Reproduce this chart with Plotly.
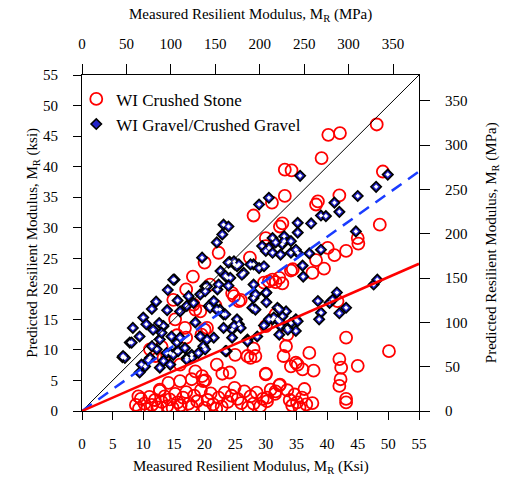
import plotly.graph_objects as go

# WI Crushed Stone (measured ksi, predicted ksi)
stone_x = [48.1, 40.2, 42.1, 39.1, 33.1, 34.2, 33.1, 31.0, 28.0, 38.5, 38.2, 42.0, 49.1, 48.6, 32.7, 32.3, 30.0, 45.0,
           45.1, 43.1, 41.2, 40.1, 39.5, 38.2, 37.6, 34.1, 32.7, 31.6, 30.5, 41.7, 43.1, 50.1, 37.1, 33.3, 32.9, 42.0,
           42.3, 45.0, 35.2, 34.1, 36.0, 37.8, 30.0, 42.2, 42.0, 43.1, 32.3, 28.3, 28.0,
           20.0, 18.1, 14.9, 18.2, 16.8, 20.0, 15.2, 22.3, 17.0, 20.9, 18.5, 24.5, 25.9, 25.0, 22.0, 16.0, 18.5, 14.1,
           16.0, 19.8, 27.0, 13.3, 11.1,
           27.4, 34.4, 31.1, 32.2, 29.7, 24.8, 25.6, 19.3, 21.8, 20.4, 31.6, 30.0, 30.0, 33.5,
           27.5, 22.9, 24.1, 30.0, 34.9, 20.1, 32.2, 31.6, 30.2, 17.9, 12.7, 9.2, 19.6,
           15.5, 17.0, 19.5, 13.0, 12.0,
           8.8, 9.3, 9.6, 10.2, 10.6, 11.0, 11.4, 11.9, 12.3, 12.7, 13.0, 13.5, 13.9, 14.3, 14.8, 15.2, 15.6, 16.1,
           16.5, 17.0, 17.4, 17.9, 18.3, 18.8, 19.4, 20.0, 20.5, 21.0, 21.4, 21.9, 22.3, 22.8, 23.3, 23.8, 24.4, 24.9,
           25.4, 26.0, 26.5, 27.1, 27.5, 28.0, 28.5, 29.1, 29.5, 30.2, 30.8, 31.5, 33.5, 33.9, 34.3, 34.7, 35.1, 35.5,
           35.9, 36.3, 36.6, 37.6, 43.1]
stone_y = [46.9, 45.2, 45.5, 41.4, 39.5, 39.4, 35.2, 34.1, 32.0, 34.3, 33.8, 35.3, 39.2, 30.5, 30.7, 30.2, 28.3, 28.3,
           27.4, 26.2, 25.5, 26.7, 23.3, 24.7, 22.6, 23.0, 20.9, 21.1, 21.2, 18.0, 12.0, 9.8, 9.5, 10.6, 9.0, 8.5,
           7.1, 7.4, 7.6, 7.3, 6.8, 6.6, 6.0, 5.2, 4.1, 2.0, 4.3, 9.0, 10.2,
           24.3, 22.0, 18.2, 17.4, 13.6, 13.3, 15.0, 25.9, 19.9, 20.7, 16.6, 19.3, 18.2, 9.2, 7.6, 7.6, 6.5, 4.6,
           4.9, 4.9, 9.0, 8.7, 10.1,
           25.1, 23.2, 21.5, 21.8, 21.0, 18.8, 18.0, 16.3, 17.2, 13.6, 15.8, 13.9, 27.0, 12.5,
           8.7, 6.1, 6.3, 6.1, 7.9, 5.0, 4.2, 3.2, 2.2, 5.2, 3.5, 2.4, 5.7,
           12.4, 12.0, 12.5, 10.5, 9.0,
           1.0, 0.4, 2.0, 1.2, 0.3, 2.3, 1.0, 1.8, 0.6, 3.3, 1.5, 2.4, 0.8, 1.9, 0.5, 2.8, 1.4, 0.9,
           2.2, 3.1, 1.2, 0.7, 2.5, 1.6, 3.4, 0.5, 1.8, 2.9, 1.1, 0.4, 2.2, 0.7, 3.0, 1.5, 2.5, 3.8,
           2.0, 1.3, 3.2, 0.6, 2.4, 1.2, 3.0, 0.8, 2.0, 1.6, 3.5, 2.8, 3.4, 1.8, 0.9, 2.7, 1.4, 0.6,
           2.2, 3.6, 1.1, 1.3, 1.4]

# WI Gravel/Crushed Gravel (measured ksi, predicted ksi)
gravel_x = [35.6, 49.9, 48.0, 45.0, 41.2, 42.0, 39.0, 39.8, 37.4, 35.2, 44.7, 35.2, 28.9, 30.5, 31.1, 33.0,
            23.1, 23.9, 22.9,
            22.0, 19.6, 24.1, 24.9, 25.3, 26.4, 22.6, 23.7, 20.1, 22.1, 15.1, 14.0, 17.4, 15.6, 12.1, 11.4, 13.9,
            10.0, 8.3, 9.4, 7.8, 6.6, 7.0, 9.4, 10.3, 12.7, 14.4, 15.5, 17.1, 17.9, 19.8, 21.5, 23.6, 18.5, 20.7,
            21.5, 22.5, 23.1, 25.3, 24.5, 23.1, 25.6, 27.0, 20.4,
            12.6, 13.3, 11.6, 10.5, 14.6, 15.5, 16.0, 12.7, 12.2, 11.1, 13.3, 14.4, 11.4, 13.0, 16.0, 17.1, 18.2,
            29.4, 30.5, 32.7, 34.1, 35.2, 30.0, 31.1, 32.4, 23.9, 24.8, 25.6, 28.0, 28.9, 29.7, 23.4, 24.2, 26.1,
            23.9, 22.3, 20.4, 28.0, 30.0, 28.0, 27.8, 19.3, 20.1, 20.9, 22.0, 23.4, 25.9, 24.8, 31.9, 33.3, 32.7,
            31.9, 34.1, 31.1, 32.4, 33.5, 34.9, 34.9,
            27.5, 31.6, 33.0, 34.1, 34.9, 39.0, 37.1, 36.0, 36.1, 28.3, 30.1, 30.1, 28.3, 32.2, 31.3, 30.5, 29.7,
            32.2, 35.2, 32.2, 28.6,
            38.5, 39.0, 38.7, 40.4, 40.9, 41.6, 42.0, 43.1, 47.6, 48.2,
            14.9, 6.7, 8.1, 9.7, 10.8, 13.8, 14.9, 15.7, 17.9, 19.0, 16.8, 17.1, 20.1, 19.3, 23.4, 24.5, 27.0, 33.6]
gravel_y = [38.5, 38.7, 36.7, 35.2, 34.1, 32.6, 32.0, 31.9, 30.7, 30.8, 29.4, 29.2, 33.8, 34.9, 28.3, 28.6,
            30.5, 30.2, 28.9,
            27.6, 25.1, 24.4, 24.0, 23.7, 22.6, 22.9, 21.8, 20.4, 19.9, 21.5, 19.8, 18.8, 18.1, 17.9, 16.7, 16.5,
            15.3, 13.6, 12.2, 11.2, 8.8, 8.7, 6.3, 7.3, 7.1, 9.5, 9.8, 8.7, 9.2, 10.6, 12.0, 9.8, 14.5, 17.2,
            18.0, 16.6, 15.8, 15.0, 13.3, 13.6, 14.2, 11.7, 11.7,
            14.4, 13.9, 13.3, 14.2, 12.2, 11.2, 12.0, 11.7, 10.1, 8.7, 8.2, 7.6, 10.6, 12.8, 16.3, 17.2, 17.7,
            27.0, 26.7, 27.3, 25.9, 25.9, 26.2, 25.9, 25.6, 24.3, 24.5, 24.0, 24.0, 23.4, 23.7, 22.1, 21.8, 22.3,
            20.5, 20.7, 20.4, 20.7, 19.3, 18.5, 16.9, 19.1, 19.6, 16.9, 16.6, 15.8, 13.6, 13.9, 16.9, 16.3, 15.5,
            15.0, 14.4, 15.0, 13.9, 13.6, 15.0, 13.1,
            24.0, 27.6, 27.8, 27.8, 26.4, 26.4, 25.8, 23.8, 22.0, 19.1, 19.4, 17.8, 16.6, 16.6, 15.3, 15.0, 14.0,
            14.7, 14.7, 12.5, 12.2,
            18.0, 16.1, 15.0, 17.7, 18.2, 19.4, 16.0, 16.9, 20.7, 21.5,
            21.5, 9.0, 11.2, 7.6, 8.3, 9.5, 9.2, 9.8, 8.7, 9.5, 10.3, 8.4, 10.1, 12.2, 9.8, 12.0, 11.4, 13.3]

# reference lines (ksi)
line_x = [0, 55]
equality_y = [0, 55]
gravel_fit_y = [0, 39.2]
stone_fit_y = [0, 24.1]

KSI_TO_MPA = 6.895
mpa_ticks = [0, 50, 100, 150, 200, 250, 300, 350]
ksi_ticks = list(range(0, 60, 5))

FONT = "Liberation Serif"

fig = go.Figure()
fig.add_trace(go.Scatter(x=stone_x, y=stone_y, mode="markers", name="WI Crushed Stone",
                         marker=dict(symbol="circle-open", size=12, color="#ff0000", line=dict(width=1.8, color="#ff0000"))))
fig.add_trace(go.Scatter(x=gravel_x, y=gravel_y, mode="markers", name="WI Gravel/Crushed Gravel",
                         marker=dict(symbol="diamond", size=8, color="#2222c8", line=dict(width=1.6, color="#000000"))))
fig.add_trace(go.Scatter(x=gravel_x, y=gravel_y, mode="markers", showlegend=False, hoverinfo="skip",
                         marker=dict(symbol="diamond", size=3.5, color="#ffffff", line=dict(width=0))))
fig.add_trace(go.Scatter(x=line_x, y=equality_y, mode="lines", showlegend=False,
                         line=dict(color="#000000", width=1)))
fig.add_trace(go.Scatter(x=line_x, y=gravel_fit_y, mode="lines", showlegend=False,
                         line=dict(color="#1a3cff", width=2.5, dash="12px,8px")))
fig.add_trace(go.Scatter(x=line_x, y=stone_fit_y, mode="lines", showlegend=False,
                         line=dict(color="#ff0000", width=2.5)))
# secondary (MPa) axes
fig.add_trace(go.Scatter(x=[], y=[], xaxis="x2", yaxis="y2", showlegend=False))

axis_common = dict(showgrid=False, zeroline=False, showline=True, linecolor="black", linewidth=1,
                   ticks="outside", tickcolor="black", tickwidth=1,
                   tickfont=dict(family=FONT, size=15, color="black"))

title_font = dict(family=FONT, size=15, color="black")

fig.update_layout(
    width=507, height=486,
    margin=dict(l=82, r=88, t=75, b=75),
    paper_bgcolor="white", plot_bgcolor="white",
    font=dict(family=FONT, color="black"),
    showlegend=True,
    legend=dict(x=-0.017, y=0.981, xanchor="left", yanchor="top", bgcolor="rgba(0,0,0,0)",
                font=dict(family=FONT, size=17, color="black"), itemwidth=30, tracegroupgap=2),
    xaxis=dict(range=[0, 55], tickvals=ksi_ticks, ticklen=8, ticklabelstandoff=11, **axis_common),
    yaxis=dict(range=[0, 55], tickvals=ksi_ticks, ticklen=8, ticklabelstandoff=12, **axis_common),
    xaxis2=dict(range=[0, 55 * KSI_TO_MPA], tickvals=mpa_ticks, overlaying="x", side="top", anchor="y",
                ticklen=10, ticklabelstandoff=9, **axis_common),
    yaxis2=dict(range=[0, 55 * KSI_TO_MPA], tickvals=mpa_ticks, overlaying="y", side="right", anchor="x",
                ticklen=10, ticklabelstandoff=12, **axis_common),
    annotations=[
        dict(text="Measured Resilient Modulus, M<sub>R</sub> (Ksi)", xref="paper", yref="paper",
             x=0.5, y=-0.167, xanchor="center", yanchor="middle", showarrow=False, font=title_font),
        dict(text="Measured Resilient Modulus, M<sub>R</sub> (MPa)", xref="paper", yref="paper",
             x=0.5, y=1.18, xanchor="center", yanchor="middle", showarrow=False, font=title_font),
        dict(text="Predicted Resilient Modulus, M<sub>R</sub> (ksi)", xref="paper", yref="paper",
             x=-0.146, y=0.5, xanchor="center", yanchor="middle", textangle=-90, showarrow=False, font=title_font),
        dict(text="Predicted Resilient Modulus, M<sub>R</sub> (MPa)", xref="paper", yref="paper",
             x=1.217, y=0.5, xanchor="center", yanchor="middle", textangle=-90, showarrow=False, font=title_font),
    ],
)

fig.write_html("out.html")
